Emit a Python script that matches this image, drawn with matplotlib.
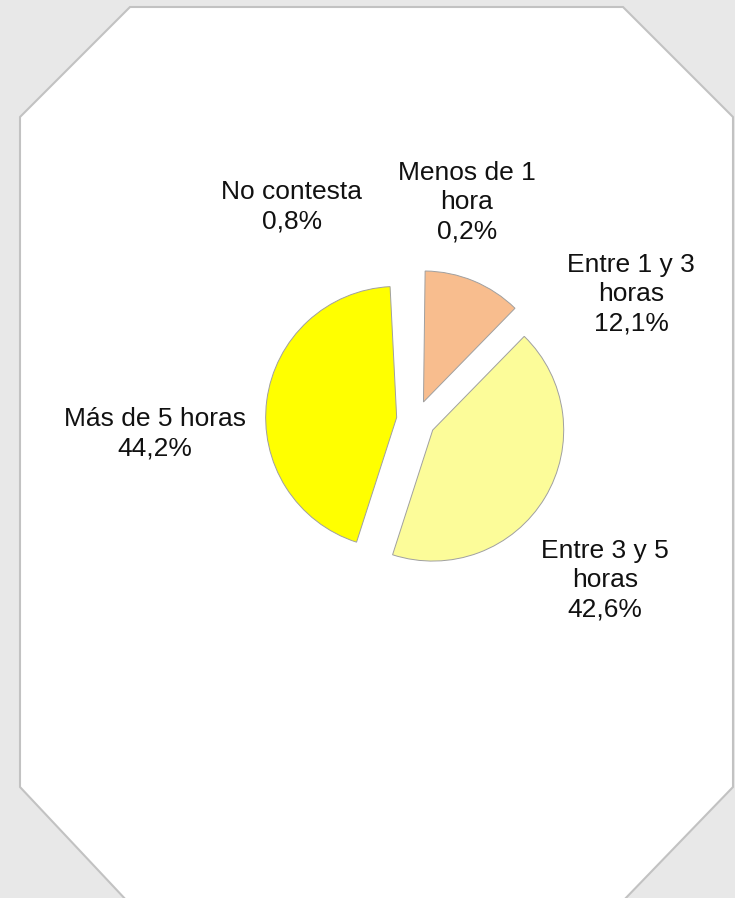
import matplotlib
matplotlib.use("Agg")
import matplotlib.pyplot as plt
from matplotlib.patches import Polygon

categories = ["Menos de 1\nhora", "Entre 1 y 3\nhoras", "Entre 3 y 5\nhoras",
              "Más de 5 horas", "No contesta"]
values = [0.2, 12.1, 42.6, 44.2, 0.8]
value_labels = ["0,2%", "12,1%", "42,6%", "44,2%", "0,8%"]
colors = ["#ffffff", "#f8bd8e", "#fcfc99", "#ffff00", "#ffffff"]
edges = ["none", "#a0a0a0", "#a0a0a0", "#a0a0a0", "none"]

W, H = 735, 898
fig = plt.figure(figsize=(W / 100, H / 100), dpi=100)
fig.patch.set_facecolor("#e8e8e8")
ax = fig.add_axes([0, 0, 1, 1])

# octagonal panel (pixel coords, y from top)
octo_px = [(130, 7), (623, 7), (733, 117), (733, 787), (622, 902),
           (128, 902), (20, 787), (20, 117)]
ax.add_patch(Polygon([(x, H - y) for x, y in octo_px], closed=True,
                     facecolor="white", edgecolor="#c2c2c2", lw=1.5, zorder=0))

radius = 131
wedges, _ = ax.pie(values, colors=colors, startangle=90, counterclock=False,
                   explode=[19.5] * len(values), center=(416, H - 420),
                   radius=radius, frame=True,
                   wedgeprops=dict(linewidth=0.7))
for w, ec in zip(wedges, edges):
    w.set_edgecolor(ec)
ax.set_xlim(0, W)
ax.set_ylim(0, H)
ax.set_aspect("equal")
ax.axis("off")

label_pos = [(467, 202), (631, 294), (605, 580), (155, 434), (292, 207)]
for cat, vl, (x, y) in zip(categories, value_labels, label_pos):
    ax.text(x, H - y, cat + "\n" + vl, ha="center", va="center",
            fontsize=19, family="Liberation Sans", color="#111111",
            linespacing=1.28)

fig.savefig("out.png", dpi=100, facecolor=fig.get_facecolor())
